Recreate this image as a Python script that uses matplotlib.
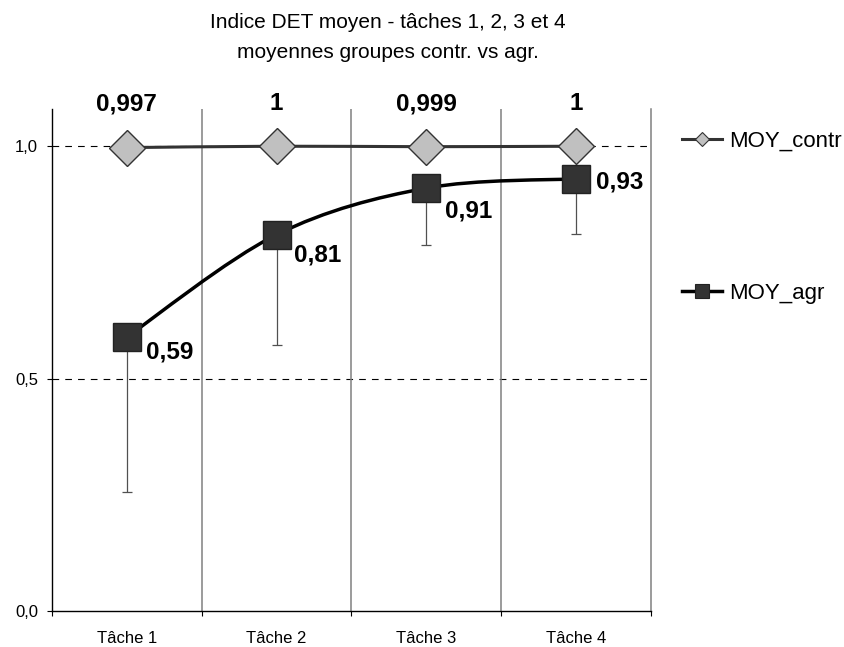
import matplotlib
matplotlib.use("Agg")
import matplotlib.pyplot as plt
from matplotlib.path import Path
from matplotlib.patches import PathPatch
from matplotlib.lines import Line2D

plt.rcParams["font.family"] = ["Liberation Sans", "DejaVu Sans"]

# data
tasks = ["Tâche 1", "Tâche 2", "Tâche 3", "Tâche 4"]
moy_contr = [0.997, 1.0, 0.999, 1.0]
moy_agr = [0.59, 0.81, 0.91, 0.93]
agr_sd_low = [0.334, 0.237, 0.123, 0.118]
contr_labels = ["0,997", "1", "0,999", "1"]
agr_labels = ["0,59", "0,81", "0,91", "0,93"]
yticks = [0.0, 0.5, 1.0]
ytick_labels = ["0,0", "0,5", "1,0"]

# label offsets in points (right of the squares)
agr_label_offsets = [(14, -11), (12.2, -14.4), (13.7, -16.6), (14.1, -2)]


def smooth_path(xs, ys):
    # excel-like smoothed line: bezier segments, catmull-rom tangents
    pts = list(zip(xs, ys))
    verts = [pts[0]]
    codes = [Path.MOVETO]
    n = len(pts)
    for i in range(n - 1):
        p0 = pts[max(i - 1, 0)]
        p1 = pts[i]
        p2 = pts[i + 1]
        p3 = pts[min(i + 2, n - 1)]
        c1 = (p1[0] + (p2[0] - p0[0]) / 6, p1[1] + (p2[1] - p0[1]) / 6)
        c2 = (p2[0] - (p3[0] - p1[0]) / 6, p2[1] - (p3[1] - p1[1]) / 6)
        verts += [c1, c2, p2]
        codes += [Path.CURVE4] * 3
    return Path(verts, codes)


fig = plt.figure(figsize=(8.45, 6.47), dpi=100)
ax = fig.add_axes([0.06154, 0.05487, 0.70887, 0.77666])

x = list(range(len(tasks)))
ax.set_xlim(-0.5, len(tasks) - 0.5)
ax.set_ylim(0, 1.08)

# gridlines
for y in [0.5, 1.0]:
    ax.axhline(y, color="black", lw=0.8, ls=(0, (6, 5.5)), zorder=1)
for b in [0.5, 1.5, 2.5]:
    ax.axvline(b, color="#808080", lw=1.1, zorder=1)

# error bars (lower only)
ax.errorbar(x, moy_agr, yerr=[agr_sd_low, [0] * len(x)], fmt="none",
            ecolor="#505050", elinewidth=0.9, capsize=3.3, capthick=0.9, zorder=2)

# lines
ax.add_patch(PathPatch(smooth_path(x, moy_contr), facecolor="none",
                       edgecolor="#333333", lw=2.2, zorder=3))
ax.add_patch(PathPatch(smooth_path(x, moy_agr), facecolor="none",
                       edgecolor="black", lw=2.5, zorder=3))

ax.plot(x, moy_contr, ls="none", marker="D", ms=18.5, mfc="#c0c0c0",
        mec="#333333", mew=1, zorder=4)
ax.plot(x, moy_agr, ls="none", marker="s", ms=19.5, mfc="#333333",
        mec="#222222", mew=1, zorder=4)

# value labels
for xi, lab in zip(x, contr_labels):
    ax.text(xi, 1.010, lab, transform=ax.get_xaxis_transform(), ha="center",
            va="center", fontsize=17.5, fontweight="bold")
for xi, yi, lab, off in zip(x, moy_agr, agr_labels, agr_label_offsets):
    ax.annotate(lab, (xi, yi), xytext=off, textcoords="offset points",
                ha="left", va="center", fontsize=17.5, fontweight="bold", zorder=5)

# axes styling
ax.spines["top"].set_visible(False)
ax.spines["right"].set_color("#808080")
ax.spines["right"].set_linewidth(1.1)
ax.spines["left"].set_linewidth(1)
ax.spines["bottom"].set_linewidth(1)

ax.set_yticks(yticks)
ax.set_yticklabels(ytick_labels, fontsize=12)
ax.tick_params(axis="y", direction="out", length=3.6, width=0.8, pad=6.5)

ax.set_xticks(x)
ax.set_xticklabels(tasks, fontsize=12)
ax.set_xticks([-0.5, 0.5, 1.5, 2.5, 3.5], minor=True)
ax.tick_params(axis="x", which="major", length=0, pad=14)
ax.tick_params(axis="x", which="minor", direction="out", length=3.6, width=0.8)

# title
fig.text(0.459, 1 - 28 / 647, "Indice DET moyen - tâches 1, 2, 3 et 4",
         ha="center", va="baseline", fontsize=15)
fig.text(0.459, 1 - 58 / 647, "moyennes groupes contr. vs agr.",
         ha="center", va="baseline", fontsize=15)

# legend
h_contr = Line2D([], [], color="#333333", lw=2.2, marker="D", ms=7,
                 mfc="#c0c0c0", mec="#333333", mew=0.8)
h_agr = Line2D([], [], color="black", lw=2.5, marker="s", ms=9.5,
               mfc="#333333", mec="#222222", mew=0.8)
fig.legend([h_contr, h_agr], ["MOY_contr", "MOY_agr"],
           loc="upper left", bbox_to_anchor=(682 / 845, 1 - 131 / 647),
           frameon=False, fontsize=16, handlelength=1.8, handletextpad=0.3,
           labelspacing=5.9, borderpad=0, borderaxespad=0)

fig.savefig("out.png", dpi=100)
